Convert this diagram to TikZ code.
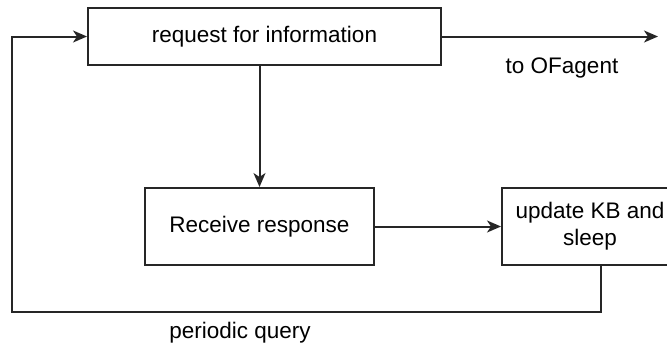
\documentclass[tikz,border=0pt]{standalone}
\usepackage{fontspec}
\setmainfont{Liberation Sans}
\usetikzlibrary{arrows.meta}
\begin{document}
\begin{tikzpicture}[x=1pt,y=-1pt,
  box/.style={draw=black!85, line width=2pt, fill=white, inner sep=0pt, align=center,
              font=\fontsize{22.5}{27}\selectfont},
  link/.style={draw=black!85, line width=2pt, -{Stealth[length=14pt,width=12pt,inset=4pt]}},
  lbl/.style={font=\fontsize{22.5}{27}\selectfont, inner sep=0pt}]
\useasboundingbox (0,0) rectangle (667,349);
\clip (0,0) rectangle (667,349);

% process boxes
\node[box, minimum width=353pt, minimum height=57pt] (req) at (264.5,36.5) {request for information};
\node[box, minimum width=229pt, minimum height=77pt] (recv) at (259.5,226.5) {Receive response};
\node[box, minimum width=176pt, minimum height=77pt] (upd) at (590,226.5) {update KB and\\sleep};

% free ends and bends
\coordinate (out) at (658,36.5);
\coordinate (loopA) at (601,312);
\coordinate (loopB) at (12,312);
\coordinate (loopC) at (12,36.5);

% connectors
\draw[link] (req.east) -- (out);
\draw[link] (recv.north |- req.south) -- (recv.north);
\draw[link] (recv.east) -- (upd.west);
\draw[link] (upd.south -| loopA) -- (loopA) -- (loopB) -- (loopC) -- (req.west);

% labels
\node[lbl] (tolbl) at (562,68) {to OFagent};
\node[lbl] (qlbl) at (240,333) {periodic query};
\end{tikzpicture}
\end{document}
